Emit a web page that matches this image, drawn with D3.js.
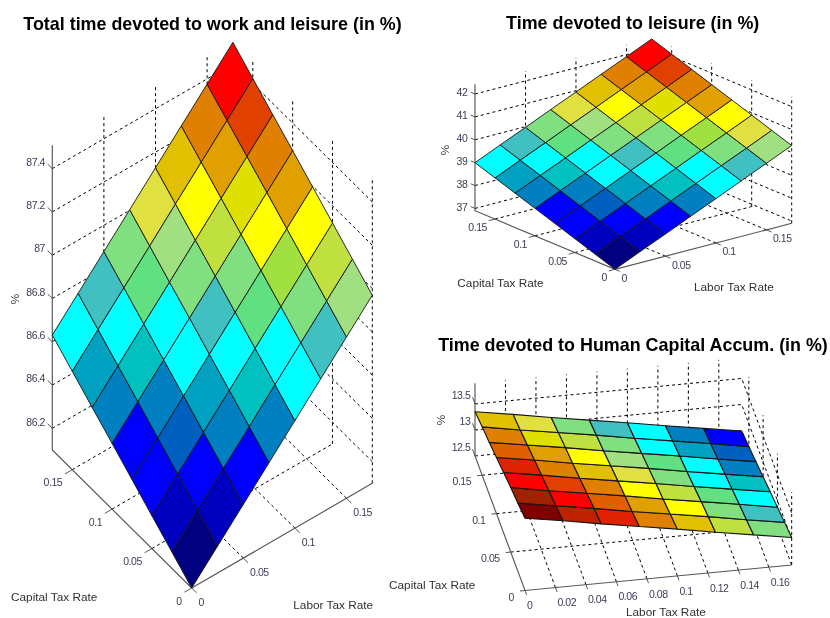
<!DOCTYPE html>
<html><head><meta charset="utf-8">
<script src="https://cdn.jsdelivr.net/npm/d3@7"></script>
<style>html,body{margin:0;padding:0;background:#fff}svg{display:block}text{font-family:"Liberation Sans",Arial,sans-serif}</style>
</head><body><svg id="c" width="830" height="618"></svg>
<script>
const laborGrid=[0,0.025,0.05,0.075,0.1,0.125,0.15,0.175];
const capitalGrid=[0,0.025,0.05,0.075,0.1,0.125,0.15,0.175];
const rateTicks=[0,0.05,0.1,0.15];
const laborTicksFine=[0,0.02,0.04,0.06,0.08,0.1,0.12,0.14,0.16];
const zTicksTotal=[86.2,86.4,86.6,86.8,87,87.2,87.4];
const zTicksLeisure=[37,38,39,40,41,42];
const zTicksHuman=[12.5,13,13.5];
const zTotal=[
[86.100,86.224,86.348,86.472,86.597,86.721,86.845,86.969],
[86.176,86.300,86.424,86.548,86.673,86.797,86.921,87.045],
[86.252,86.376,86.500,86.624,86.749,86.873,86.997,87.121],
[86.328,86.452,86.576,86.700,86.825,86.949,87.073,87.197],
[86.404,86.528,86.652,86.776,86.901,87.025,87.149,87.273],
[86.479,86.603,86.727,86.851,86.976,87.100,87.224,87.348],
[86.555,86.679,86.803,86.927,87.052,87.176,87.300,87.424],
[86.631,86.755,86.879,87.003,87.128,87.252,87.376,87.500]];
const zLeisure=[
[36.90,37.39,37.87,38.36,38.84,39.33,39.81,40.30],
[37.20,37.69,38.17,38.66,39.14,39.63,40.11,40.60],
[37.50,37.99,38.47,38.96,39.44,39.93,40.41,40.90],
[37.80,38.29,38.77,39.26,39.74,40.23,40.71,41.20],
[38.10,38.59,39.07,39.56,40.04,40.53,41.01,41.50],
[38.40,38.89,39.37,39.86,40.34,40.83,41.31,41.80],
[38.70,39.19,39.67,40.16,40.64,41.13,41.61,42.10],
[39.00,39.49,39.97,40.46,40.94,41.43,41.91,42.40]];
const zHuman=[
[13.89,13.77,13.64,13.52,13.40,13.27,13.15,13.03],
[13.81,13.69,13.57,13.44,13.32,13.20,13.07,12.95],
[13.74,13.61,13.49,13.37,13.24,13.12,13.00,12.87],
[13.66,13.54,13.41,13.29,13.17,13.04,12.92,12.80],
[13.58,13.46,13.33,13.21,13.09,12.96,12.84,12.72],
[13.50,13.38,13.26,13.13,13.01,12.89,12.76,12.64],
[13.43,13.30,13.18,13.06,12.93,12.81,12.69,12.56],
[13.35,13.23,13.10,12.98,12.86,12.73,12.61,12.49]];
const levelsTotal=[
[0,1,2,4,7,8,11],[1,2,4,6,7,10,13],[2,3,5,7,9,12,16],[2,4,7,8,10,16,18],
[4,6,7,10,13,15,19],[5,7,9,11,16,18,21],[7,8,10,14,17,19,23]];
const levelsLeisure=[
[0,1,2,4,7,8,11],[1,2,4,6,7,10,14],[2,3,5,7,9,12,16],[2,4,7,8,10,16,18],
[4,6,7,10,13,15,19],[5,7,9,11,16,18,21],[7,8,10,14,17,19,23]];
const levelsHuman=[
[26,24,22,19,17,13,10],[25,23,20,18,16,10,8],[23,21,19,16,13,9,7],[22,19,17,14,10,7,6],
[20,18,16,11,9,7,4],[19,15,13,10,7,5,3],[17,14,10,8,7,4,2]];
const palette=["#000080","#0000c0","#0000ff","#0060c0","#0080c0","#00a0c0","#00c0c0","#00ffff","#40c0c0","#60e080","#80e080","#a0e080","#a0e040","#c0e040","#e0e040","#e0e000","#ffff00","#e0c000","#e0a000","#e08000","#e06000","#e04000","#e02000","#ff0000","#c02000","#a02000","#800000"];

const color=d3.scaleOrdinal(d3.range(palette.length),palette);
const svg=d3.select("#c");
const defs=svg.append("defs");
defs.append("filter").attr("id","soft")
  .attr("filterUnits","userSpaceOnUse").attr("x",0).attr("y",0).attr("width",830).attr("height",618)
  .append("feGaussianBlur").attr("stdDeviation",0.3);
const root=svg.append("g").attr("filter","url(#soft)");
root.append("rect").attr("width",830).attr("height",618).attr("fill","#fff");

const panels=[
 {title:"Total time devoted to work and leisure (in %)",tx:212.5,ty:29.5,
  z:zTotal,levels:levelsTotal,zTicks:zTicksTotal,laborTicks:rateTicks,capitalTicks:rateTicks,
  origin:[191.7,588],right:[372.3,483.3],left:[52.3,450],
  zDom:[86.1,87.5],zPx:303,zAxisMax:87.508,edge:0.9,
  tickC:0.04,tickL:0.035,tickZ:0.033,
  zLab:[-7.3,-6.5],capLab:[-10,13],labLab:[6.8,14],
  capTitle:[11,601],labTitle:[293.3,609],pct:[15,299]},
 {title:"Time devoted to leisure (in %)",tx:632.7,ty:29.3,
  z:zLeisure,levels:levelsLeisure,zTicks:zTicksLeisure,laborTicks:rateTicks,capitalTicks:rateTicks,
  origin:[615,269.3],right:[791.7,223.3],left:[475,210.7],
  zDom:[36.9,42.4],zPx:125.8,zAxisMax:42.43,edge:0.9,
  tickC:0.035,tickL:0.035,tickZ:0.03,
  zLab:[-7.7,-1.3],capLab:[-8,8.4],labLab:[6.5,8.8],
  capTitle:[457.3,287.3],labTitle:[694,290.7],pct:[445,150]},
 {title:"Time devoted to Human Capital Accum. (in %)",tx:633,ty:350.7,
  z:zHuman,levels:levelsHuman,zTicks:zTicksHuman,laborTicks:laborTicksFine,capitalTicks:rateTicks,
  origin:[525,590.5],right:[791.7,565],left:[475,456],
  zDom:[12.5,13.89],zPx:72.3,zAxisMax:13.9,edge:1.1,
  tickC:0.019,tickL:0.032,tickZ:0.05,
  zLab:[-4.7,-8.7],capLab:[-11,6.4],labLab:[2,15],
  capTitle:[389,589.3],labTitle:[626,616],pct:[440.7,420]}
];

const lineGen=d3.line();
panels.forEach(p=>{
  const g=root.append("g");
  const lx=d3.scaleLinear([0,0.175],[0,p.right[0]-p.origin[0]]);
  const ly=d3.scaleLinear([0,0.175],[0,p.right[1]-p.origin[1]]);
  const cx=d3.scaleLinear([0,0.175],[0,p.left[0]-p.origin[0]]);
  const cy=d3.scaleLinear([0,0.175],[0,p.left[1]-p.origin[1]]);
  const zs=d3.scaleLinear(p.zDom,[0,-p.zPx]);
  const P=(l,c,z)=>[p.origin[0]+lx(l)+cx(c),p.origin[1]+ly(l)+cy(c)+zs(z)];
  const zb=p.zDom[0], lm=0.175, cm=0.175, zt=p.zAxisMax;
  const capVec=[p.left[0]-p.origin[0],p.left[1]-p.origin[1]];
  const labVec=[p.right[0]-p.origin[0],p.right[1]-p.origin[1]];

  const grid=g.append("g").attr("fill","none").attr("stroke","#000").attr("stroke-width",1).attr("stroke-dasharray","3,3");
  const dash=pts=>grid.append("path").attr("d",lineGen(pts));
  p.zTicks.forEach(z=>{dash([P(0,cm,z),P(lm,cm,z),P(lm,0,z)]);});
  p.laborTicks.forEach(l=>{
    if(l>0){dash([P(l,cm,zb),P(l,cm,zt)]);}
    if(l>0){dash([P(l,0,zb),P(l,cm,zb)]);}
  });
  p.capitalTicks.forEach(c=>{
    dash([P(lm,c,zb),P(lm,c,zt)]);
    if(c>0){dash([P(0,c,zb),P(lm,c,zb)]);}
  });

  const ax=g.append("g").attr("fill","none").attr("stroke","#555").attr("stroke-width",1.15);
  ax.append("path").attr("d",lineGen([P(0,cm,zt),P(0,cm,zb),P(0,0,zb),P(lm,0,zb)]));
  const tk=g.append("g").attr("fill","none").attr("stroke","#444").attr("stroke-width",0.9);
  const lab=g.append("g").attr("fill","#3c3c58").attr("font-size",10.5).attr("letter-spacing","-0.45px");
  const fmt=v=>String(v);
  p.zTicks.forEach(z=>{
    const a=P(0,cm,z);
    tk.append("path").attr("d",lineGen([a,[a[0]+capVec[0]*p.tickZ,a[1]+capVec[1]*p.tickZ]]));
    lab.append("text").attr("x",a[0]+p.zLab[0]).attr("y",a[1]+p.zLab[1]).attr("text-anchor","end").attr("dy","0.35em").text(fmt(z));
  });
  p.capitalTicks.forEach(c=>{
    const a=P(0,c,zb);
    tk.append("path").attr("d",lineGen([a,[a[0]-labVec[0]*p.tickC,a[1]-labVec[1]*p.tickC]]));
    lab.append("text").attr("x",a[0]+p.capLab[0]).attr("y",a[1]+p.capLab[1]).attr("text-anchor","end").attr("dy","0.35em").text(fmt(c));
  });
  p.laborTicks.forEach(l=>{
    const a=P(l,0,zb);
    tk.append("path").attr("d",lineGen([a,[a[0]-capVec[0]*p.tickL,a[1]-capVec[1]*p.tickL]]));
    lab.append("text").attr("x",a[0]+p.labLab[0]).attr("y",a[1]+p.labLab[1]).attr("text-anchor","start").attr("dy","0.35em").text(fmt(l));
  });

  const cells=[];
  p.levels.forEach((row,c)=>row.forEach((lv,l)=>cells.push({l,c,lv})));
  g.append("g").attr("stroke","#141414").attr("stroke-width",p.edge).attr("stroke-linejoin","round")
    .selectAll("path").data(cells).join("path")
    .attr("fill",d=>color(d.lv))
    .attr("d",d=>lineGen([
      P(laborGrid[d.l],capitalGrid[d.c],p.z[d.c][d.l]),
      P(laborGrid[d.l+1],capitalGrid[d.c],p.z[d.c][d.l+1]),
      P(laborGrid[d.l+1],capitalGrid[d.c+1],p.z[d.c+1][d.l+1]),
      P(laborGrid[d.l],capitalGrid[d.c+1],p.z[d.c+1][d.l])
    ])+"Z");

  g.append("text").attr("x",p.tx).attr("y",p.ty).attr("text-anchor","middle")
    .attr("font-size",17.9).attr("font-weight","bold").attr("fill","#000").text(p.title);
  const t=g.append("g").attr("fill","#303030").attr("font-size",11.8);
  t.append("text").attr("x",p.capTitle[0]).attr("y",p.capTitle[1]).text("Capital Tax Rate");
  t.append("text").attr("x",p.labTitle[0]).attr("y",p.labTitle[1]).text("Labor Tax Rate");
  t.append("text").attr("transform",`translate(${p.pct[0]},${p.pct[1]}) rotate(-90)`).attr("text-anchor","middle").attr("dy","0.35em").text("%");
});
</script></body></html>
